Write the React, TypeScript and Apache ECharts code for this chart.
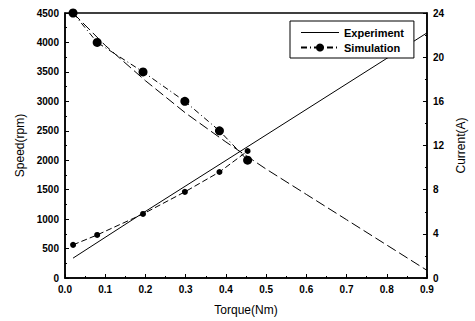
import React, { useEffect, useRef } from "react";
import * as echarts from "echarts";

const simTorque = [0.02, 0.08, 0.194, 0.298, 0.384, 0.454];
const simSpeed = [4500, 4000, 3500, 3000, 2500, 2000];
const simCurrent = [3.0, 3.9, 5.8, 7.8, 9.6, 11.5];

const expSpeedTorque = [0.02, 0.1, 0.2, 0.3, 0.4, 0.5, 0.6, 0.7, 0.8, 0.9];
const expSpeed = [4500, 3950, 3350, 2800, 2310, 1850, 1420, 990, 560, 130];

const expCurrentTorque = [0.02, 0.19, 0.45, 0.9];
const expCurrent = [1.8, 5.8, 11.8, 22.2];

const pair = (xs: number[], ys: number[]) => xs.map((x, i) => [x, ys[i]]);

const FONT = "Liberation Sans";

export default function App() {
  const ref = useRef<HTMLDivElement>(null);
  useEffect(() => {
    if (!ref.current) return;
    const chart = echarts.init(ref.current, undefined, { renderer: "svg" });
    const labelStyle = { color: "#000", fontFamily: FONT, fontSize: 10, fontWeight: "bold" as const };
    const nameStyle = { color: "#000", fontFamily: FONT, fontSize: 12 };
    chart.setOption({
      animation: false,
      backgroundColor: "#fff",
      grid: { left: 65, right: 47, top: 13, bottom: 43, show: true, borderColor: "#000", borderWidth: 1.5, backgroundColor: "transparent" },
      legend: {
        orient: "vertical",
        left: 290,
        top: 21,
        width: 127,
        padding: [6, 10, 5, 10],
        itemGap: 4,
        itemWidth: 38,
        itemHeight: 10,
        borderColor: "#000",
        borderWidth: 1,
        backgroundColor: "#fff",
        textStyle: { color: "#000", fontFamily: FONT, fontSize: 11, fontWeight: "bold" },
        data: [
          { name: "Experiment", icon: "path://M0,0 L38,0 L38,1 L0,1 Z", itemStyle: { color: "#000" } },
          "Simulation",
        ],
      },
      xAxis: {
        type: "value",
        min: 0,
        max: 0.9,
        interval: 0.1,
        name: "Torque(Nm)",
        nameLocation: "middle",
        nameGap: 26,
        nameTextStyle: nameStyle,
        axisLine: { lineStyle: { color: "#000", width: 1.5 } },
        axisTick: { inside: true, length: 4, lineStyle: { color: "#000" } },
        minorTick: { show: true, splitNumber: 2, length: 2, lineStyle: { color: "#000" } },
        splitLine: { show: false },
        axisLabel: { ...labelStyle, margin: 6, formatter: (v: number) => v.toFixed(1) },
      },
      yAxis: [
        {
          type: "value",
          min: 0,
          max: 4500,
          interval: 500,
          name: "Speed(rpm)",
          nameLocation: "middle",
          nameRotate: 90,
          nameGap: 38,
          nameTextStyle: nameStyle,
          axisLine: { show: true, lineStyle: { color: "#000", width: 1.5 } },
          axisTick: { show: true, inside: true, length: 4, lineStyle: { color: "#000" } },
          minorTick: { show: true, splitNumber: 2, length: 2, lineStyle: { color: "#000" } },
          splitLine: { show: false },
          axisLabel: { ...labelStyle, margin: 6, formatter: (v: number) => String(v) },
        },
        {
          type: "value",
          min: 0,
          max: 24,
          interval: 4,
          position: "right",
          name: "Current(A)",
          nameLocation: "middle",
          nameRotate: 90,
          nameGap: 25,
          nameTextStyle: nameStyle,
          axisLine: { show: true, lineStyle: { color: "#000", width: 1.5 } },
          axisTick: { show: true, inside: true, length: 4, lineStyle: { color: "#000" } },
          minorTick: { show: true, splitNumber: 2, length: 2, lineStyle: { color: "#000" } },
          splitLine: { show: false },
          axisLabel: { ...labelStyle, margin: 6, formatter: (v: number) => String(v) },
        },
      ],
      series: [
        {
          name: "Experiment",
          type: "line",
          yAxisIndex: 1,
          data: pair(expCurrentTorque, expCurrent),
          symbol: "none",
          lineStyle: { color: "#000", width: 1 },
          itemStyle: { color: "#000" },
        },
        {
          name: "Experiment",
          type: "line",
          yAxisIndex: 0,
          data: pair(expSpeedTorque, expSpeed),
          symbol: "none",
          lineStyle: { color: "#000", width: 1, type: [10, 4] },
          itemStyle: { color: "#000" },
        },
        {
          name: "Simulation",
          type: "line",
          yAxisIndex: 0,
          data: pair(simTorque, simSpeed),
          symbol: "circle",
          symbolSize: 9,
          lineStyle: { color: "#000", width: 1, type: [6, 3, 1, 3] },
          itemStyle: { color: "#000" },
        },
        {
          name: "Simulation",
          type: "line",
          yAxisIndex: 1,
          data: pair(simTorque, simCurrent),
          symbol: "circle",
          symbolSize: 6,
          lineStyle: { color: "#000", width: 1, type: [6, 3] },
          itemStyle: { color: "#000" },
        },
      ],
    });
    return () => chart.dispose();
  }, []);
  return <div ref={ref} style={{ width: 475, height: 321, position: "absolute", left: 0, top: 0 }} />;
}
